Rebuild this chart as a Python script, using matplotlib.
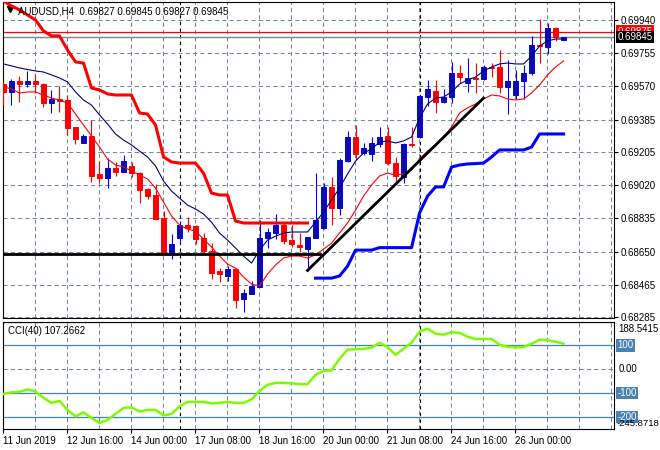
import matplotlib
matplotlib.use("Agg")
import matplotlib.pyplot as plt
from matplotlib.transforms import blended_transform_factory

plt.rcParams['font.family'] = ['Liberation Sans', 'DejaVu Sans']

# AUDUSD H4, bar 0 = 11 Jun 2019 08:00 ... bar 70 = 26 Jun 2019
opens = [0.69582, 0.69540, 0.69600, 0.69585, 0.69600, 0.69585, 0.69479, 0.69500, 0.69494, 0.69342,
         0.69256, 0.69294, 0.69082, 0.69061, 0.69114, 0.69093, 0.69127, 0.69089, 0.68997, 0.68965,
         0.68838, 0.68643, 0.68724, 0.68798, 0.68792, 0.68727, 0.68653, 0.68541, 0.68514, 0.68553,
         0.68384, 0.68413, 0.68454, 0.68724, 0.68752, 0.68798, 0.68714, 0.68686, 0.68664, 0.68727,
         0.68779, 0.69011, 0.68891, 0.69156, 0.69290, 0.69197, 0.69192, 0.69247, 0.69294, 0.69142,
         0.69067, 0.69249, 0.69290, 0.69513, 0.69546, 0.69485, 0.69509, 0.69643, 0.69587, 0.69619,
         0.69610, 0.69680, 0.69676, 0.69565, 0.69522, 0.69602, 0.69643, 0.69801, 0.69791, 0.69894,
         0.69827]
highs = [0.69596, 0.69610, 0.69630, 0.69658, 0.69637, 0.69588, 0.69550, 0.69572, 0.69522, 0.69345,
         0.69305, 0.69383, 0.69156, 0.69169, 0.69150, 0.69188, 0.69150, 0.69095, 0.69002, 0.69026,
         0.68877, 0.68746, 0.68820, 0.68844, 0.68798, 0.68752, 0.68696, 0.68557, 0.68571, 0.68557,
         0.68440, 0.68487, 0.68826, 0.68779, 0.68857, 0.68816, 0.68798, 0.68752, 0.68733, 0.69086,
         0.69032, 0.69067, 0.69169, 0.69322, 0.69355, 0.69253, 0.69290, 0.69345, 0.69342, 0.69178,
         0.69253, 0.69342, 0.69517, 0.69606, 0.69606, 0.69554, 0.69708, 0.69689, 0.69727, 0.69699,
         0.69689, 0.69699, 0.69773, 0.69717, 0.69661, 0.69689, 0.69851, 0.69944, 0.69922, 0.69899,
         0.69845]
lows = [0.69466, 0.69466, 0.69485, 0.69568, 0.69532, 0.69457, 0.69423, 0.69429, 0.69299, 0.69247,
        0.69254, 0.69039, 0.69030, 0.69006, 0.69071, 0.69091, 0.69064, 0.68919, 0.68943, 0.68826,
        0.68636, 0.68608, 0.68690, 0.68760, 0.68690, 0.68635, 0.68495, 0.68482, 0.68486, 0.68334,
        0.68311, 0.68411, 0.68451, 0.68671, 0.68720, 0.68690, 0.68677, 0.68649, 0.68543, 0.68725,
        0.68777, 0.68798, 0.68853, 0.69150, 0.69160, 0.69188, 0.69154, 0.69234, 0.69132, 0.69030,
        0.69033, 0.69231, 0.69288, 0.69461, 0.69423, 0.69476, 0.69476, 0.69587, 0.69540, 0.69532,
        0.69606, 0.69624, 0.69532, 0.69416, 0.69498, 0.69500, 0.69634, 0.69699, 0.69751, 0.69825,
        0.69827]
closes = [0.69540, 0.69600, 0.69585, 0.69600, 0.69582, 0.69479, 0.69500, 0.69489, 0.69340, 0.69275,
          0.69294, 0.69071, 0.69061, 0.69114, 0.69093, 0.69154, 0.69089, 0.68993, 0.68961, 0.68831,
          0.68640, 0.68690, 0.68798, 0.68779, 0.68720, 0.68653, 0.68532, 0.68523, 0.68553, 0.68380,
          0.68417, 0.68458, 0.68724, 0.68757, 0.68798, 0.68710, 0.68690, 0.68673, 0.68733, 0.68826,
          0.69011, 0.68891, 0.69160, 0.69290, 0.69193, 0.69225, 0.69253, 0.69286, 0.69142, 0.69071,
          0.69249, 0.69242, 0.69517, 0.69554, 0.69483, 0.69509, 0.69643, 0.69624, 0.69615, 0.69610,
          0.69680, 0.69671, 0.69565, 0.69602, 0.69602, 0.69643, 0.69801, 0.69795, 0.69894, 0.69847,
          0.69845]

# moving averages
ma_fast = [0.69695, 0.69684, 0.69673, 0.69664, 0.69656, 0.69650, 0.69634, 0.69617, 0.69595, 0.69539,
           0.69494, 0.69466, 0.69411, 0.69361, 0.69305, 0.69271, 0.69244, 0.69210, 0.69177, 0.69127,
           0.69043, 0.68987, 0.68948, 0.68909, 0.68887, 0.68859, 0.68814, 0.68753, 0.68714, 0.68670,
           0.68625, 0.68586, 0.68658, 0.68714, 0.68736, 0.68753, 0.68759, 0.68759, 0.68759, 0.68814,
           0.68870, 0.68937, 0.69004, 0.69082, 0.69154, 0.69199, 0.69221, 0.69260, 0.69266, 0.69255,
           0.69266, 0.69288, 0.69394, 0.69472, 0.69505, 0.69511, 0.69539, 0.69583, 0.69606, 0.69622,
           0.69656, 0.69678, 0.69695, 0.69700, 0.69695, 0.69695, 0.69739, 0.69795, 0.69823, 0.69834,
           0.69834]
ma_slow = [0.69567, 0.69556, 0.69533, 0.69539, 0.69539, 0.69522, 0.69505, 0.69494, 0.69478, 0.69416,
           0.69355, 0.69294, 0.69232, 0.69166, 0.69132, 0.69121, 0.69099, 0.69076, 0.69054, 0.69004,
           0.68926, 0.68848, 0.68798, 0.68775, 0.68764, 0.68720, 0.68675, 0.68625, 0.68580, 0.68558,
           0.68508, 0.68469, 0.68458, 0.68525, 0.68575, 0.68614, 0.68625, 0.68625, 0.68614, 0.68631,
           0.68664, 0.68697, 0.68753, 0.68809, 0.68881, 0.68959, 0.69021, 0.69071, 0.69087, 0.69076,
           0.69082, 0.69104, 0.69166, 0.69210, 0.69244, 0.69288, 0.69344, 0.69422, 0.69450, 0.69472,
           0.69500, 0.69522, 0.69517, 0.69500, 0.69494, 0.69500, 0.69533, 0.69578, 0.69634, 0.69678,
           0.69712]

# trailing stop: red above price for bars 0-38, blue below for bars 39-70
stop_down = [0.70046, 0.70018, 0.69996, 0.69968, 0.69940, 0.69879, 0.69851, 0.69851, 0.69773, 0.69706,
             0.69700, 0.69561, 0.69550, 0.69528, 0.69522, 0.69522, 0.69522, 0.69422, 0.69416, 0.69355,
             0.69177, 0.69149, 0.69143, 0.69143, 0.69143, 0.69087, 0.68976, 0.68965, 0.68965, 0.68820,
             0.68809, 0.68809, 0.68809, 0.68809, 0.68809, 0.68809, 0.68809, 0.68809, 0.68809]
stop_up = [0.68502, 0.68502, 0.68502, 0.68514, 0.68569, 0.68658, 0.68658, 0.68658, 0.68672, 0.68672,
           0.68672, 0.68672, 0.68672, 0.68865, 0.68959, 0.69010, 0.69010, 0.69121, 0.69132, 0.69138,
           0.69140, 0.69143, 0.69177, 0.69216, 0.69216, 0.69216, 0.69216, 0.69232, 0.69305, 0.69305,
           0.69305, 0.69305]

cci = [-103.0, -96.7, -94.6, -84.1, -92.5, -119.8, -140.9, -132.5, -170.3, -197.6,
       -180.8, -204.0, -225.0, -212.4, -187.1, -161.9, -159.8, -176.6, -170.3, -170.3,
       -193.4, -187.1, -155.6, -136.7, -136.7, -136.7, -143.0, -140.9, -136.7, -140.9,
       -140.9, -126.2, -90.4, -65.2, -56.8, -56.8, -58.9, -62.2, -62.2, -23.1,
       -6.3, -4.2, 44.2, 82.0, 84.1, 86.2, 90.4, 111.4, 92.5, 61.0,
       86.2, 111.4, 157.7, 170.3, 149.3, 145.1, 155.6, 152.2, 136.7, 127.0,
       127.0, 127.0, 103.0, 94.6, 91.7, 93.4, 107.2, 124.1, 122.0, 115.6,
       107.27]
cci_levels = [200, 100, -100, -200]

# drawn objects
support = 0.68636
support_end = 39.5
trend_x = [38, 60]
trend_y = [0.68545, 0.69505]
separators = [22, 52]
ask, bid = 0.69875, 0.69845

price_ticks = [0.69940, 0.69755, 0.69570, 0.69385, 0.69205, 0.69020, 0.68835, 0.68650, 0.68465, 0.68285]
date_labels = ["11 Jun 2019", "12 Jun 16:00", "14 Jun 00:00", "17 Jun 08:00", "18 Jun 16:00",
               "20 Jun 00:00", "21 Jun 08:00", "24 Jun 16:00", "26 Jun 00:00"]

W, H = 660, 450
GRID = '#778899'
FS = 7

fig = plt.figure(figsize=(W / 100, H / 100), dpi=100)


def box(l, t, r, b):
    return [l / W, 1 - b / H, (r - l) / W, (b - t) / H]


ax = fig.add_axes(box(3, 2, 614, 318))
axc = fig.add_axes(box(3, 322, 614, 429))
xmin, xmax = -0.06, 76.3
for a in (ax, axc):
    a.set_xlim(xmin, xmax)
    for s in a.spines.values():
        s.set_color('black')
        s.set_linewidth(0.8)
    for k in range(4, 77, 4):
        a.axvline(k - 0.06, color=GRID, lw=0.75, ls=(0, (4, 3)), zorder=0)
    for k in separators:
        a.axvline(k, color='black', lw=0.8, ls=(0, (3, 3)), zorder=1)

# ---- price panel ----
ax.set_ylim(0.68280, 0.70040)
for p in price_ticks:
    ax.axhline(p, color=GRID, lw=0.75, ls=(0, (4, 3)), zorder=0)

ax.axhline(ask, color='#ff0000', lw=0.9, zorder=2)
ax.axhline(bid, color='#7a8590', lw=1.0, zorder=2)

for i in range(len(opens)):
    o, h, l, c = opens[i], highs[i], lows[i], closes[i]
    up = c > o
    edge = '#0000ff' if up else '#ff0000'
    fill = '#0c0ca8' if up else '#ff0000'
    ax.vlines(i, l, h, color=edge, lw=0.8, zorder=3)
    ax.bar(i, max(abs(c - o), 0.00004), bottom=min(o, c), width=0.62,
           color=fill, edgecolor=edge, lw=0.7, zorder=4)

ax.plot(range(len(ma_fast)), ma_fast, color='#000080', lw=0.8, zorder=5)
ax.plot(range(len(ma_slow)), ma_slow, color='#ff0000', lw=0.8, zorder=5)
ax.plot(range(len(stop_down)), stop_down, color='#ff0000', lw=2.2, zorder=5)
ax.plot(range(len(stop_down), len(stop_down) + len(stop_up)), stop_up,
        color='#0000ff', lw=2.2, zorder=5)
ax.plot([xmin, support_end], [support, support], color='black', lw=2.0, zorder=6)
ax.plot(trend_x, trend_y, color='black', lw=2.0, zorder=6)

ax.yaxis.tick_right()
ax.set_yticks(price_ticks)
ax.set_yticklabels([f"{p:.5f}" for p in price_ticks])
ax.tick_params(axis='y', length=3, width=0.8, pad=2, labelsize=FS)
ax.tick_params(axis='x', bottom=False, labelbottom=False)

tr = blended_transform_factory(ax.transAxes, ax.transData)
ax.text(1.006, ask, "0.69875", transform=tr, color='white', fontsize=FS, va='center',
        bbox=dict(boxstyle='square,pad=0.12', fc='#ff0000', ec='none'), clip_on=False, zorder=10)
ax.text(1.006, bid, "0.69845", transform=tr, color='white', fontsize=FS, va='center',
        bbox=dict(boxstyle='square,pad=0.12', fc='black', ec='none'), clip_on=False, zorder=11)

ax.plot([(10 - 3) / 611], [1 - (9 - 2) / 316], marker='v', color='black', ms=4,
        transform=ax.transAxes, clip_on=False)
fig.text(18 / W, 1 - 11 / H, "AUDUSD,H4  0.69827 0.69845 0.69827 0.69845",
         fontsize=FS, va='center', ha='left')

# ---- CCI panel ----
axc.set_ylim(-250.3, 198.3)
axc.axhline(0, color=GRID, lw=0.75, ls=(0, (4, 3)), zorder=0)
for lv in cci_levels:
    axc.axhline(lv, color='#4682b4', lw=0.9, zorder=1)
axc.plot(range(len(cci)), cci, color='#7cfc00', lw=1.8, zorder=5)
axc.set_yticks([])
fig.text(8 / W, 1 - 331.5 / H, "CCI(40) 107.2662", fontsize=FS, va='center')

trc = blended_transform_factory(axc.transAxes, axc.transData)
for lv in [100, -100, -200]:
    axc.text(1.006, lv, str(lv), transform=trc, color='white', fontsize=FS, va='center',
             bbox=dict(boxstyle='square,pad=0.12', fc='#4682b4', ec='none'), clip_on=False)
axc.text(1.008, 0, "0.00", transform=trc, fontsize=FS, va='center', clip_on=False)
fig.text(618 / W, 1 - 329 / H, "188.5415", fontsize=FS, va='center')
fig.text(617 / W, 1 - 424 / H, "-245.8718", fontsize=6.8, va='center')

axc.set_xticks([8 * j - 0.06 for j in range(len(date_labels))])
axc.set_xticklabels(date_labels, ha='left', fontsize=FS)
axc.tick_params(axis='x', length=3, width=0.8, pad=2)

fig.savefig("out.png", dpi=100, facecolor='white')
